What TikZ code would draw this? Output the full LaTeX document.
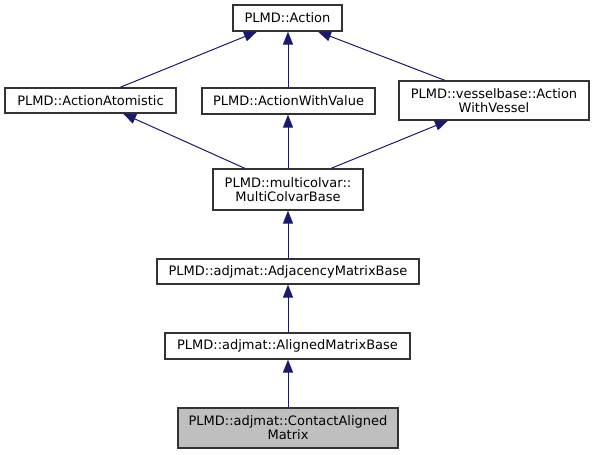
\documentclass[tikz,border=0pt]{standalone}
\usepackage{fontspec}
\setmainfont{DejaVu Sans}
\usetikzlibrary{arrows.meta}
\definecolor{edgeblue}{HTML}{191970}
\definecolor{boxline}{HTML}{333333}
\definecolor{leaf}{HTML}{BFBFBF}
\begin{document}
\begin{tikzpicture}[x=1pt,y=-1pt,
  cls/.style={draw=boxline, line width=1.2pt, fill=white, inner sep=0pt, align=center,
    font=\fontsize{13pt}{14pt}\selectfont},
  edge/.style={draw=edgeblue, line width=1pt, -{Triangle[length=13pt,width=10pt]}}]
\useasboundingbox (0,0) rectangle (595,455);
\node[cls, minimum width=109pt, minimum height=26pt] (action) at (287.5,18) {PLMD::Action};
\node[cls, minimum width=171pt, minimum height=25pt] (atom) at (90.5,100.5) {PLMD::ActionAtomistic};
\node[cls, minimum width=173pt, minimum height=26pt] (awv) at (288.5,101) {PLMD::ActionWithValue};
\node[cls, minimum width=190pt, minimum height=39pt] (vessel) at (494,100.5) {PLMD::vesselbase::Action\\WithVessel};
\node[cls, minimum width=150pt, minimum height=41pt] (mcv) at (288,189.5) {PLMD::multicolvar::\\MultiColvarBase};
\node[cls, minimum width=262pt, minimum height=25pt] (adj) at (288,271.5) {PLMD::adjmat::AdjacencyMatrixBase};
\node[cls, minimum width=245pt, minimum height=26pt] (aligned) at (287.5,346) {PLMD::adjmat::AlignedMatrixBase};
\node[cls, fill=leaf, minimum width=220pt, minimum height=40pt] (contact) at (288,428) {PLMD::adjmat::ContactAligned\\Matrix};

\draw[edge] ([xshift=29.5pt]atom.north) -- ([xshift=-30.5pt]action.south);
\draw[edge] (awv.north -| 288,0) -- (action.south -| 288,0);
\draw[edge] ([xshift=-49pt]vessel.north) -- ([xshift=30.5pt]action.south);
\draw[edge] ([xshift=-43pt]mcv.north) -- ([xshift=32.5pt]atom.south);
\draw[edge] (mcv.north) -- (mcv.north |- awv.south);
\draw[edge] ([xshift=43pt]mcv.north) -- ([xshift=-46pt]vessel.south);
\draw[edge] (adj.north) -- (adj.north |- mcv.south);
\draw[edge] (aligned.north -| adj.north) -- (adj.south);
\draw[edge] (contact.north) -- (contact.north |- aligned.south);
\end{tikzpicture}
\end{document}
